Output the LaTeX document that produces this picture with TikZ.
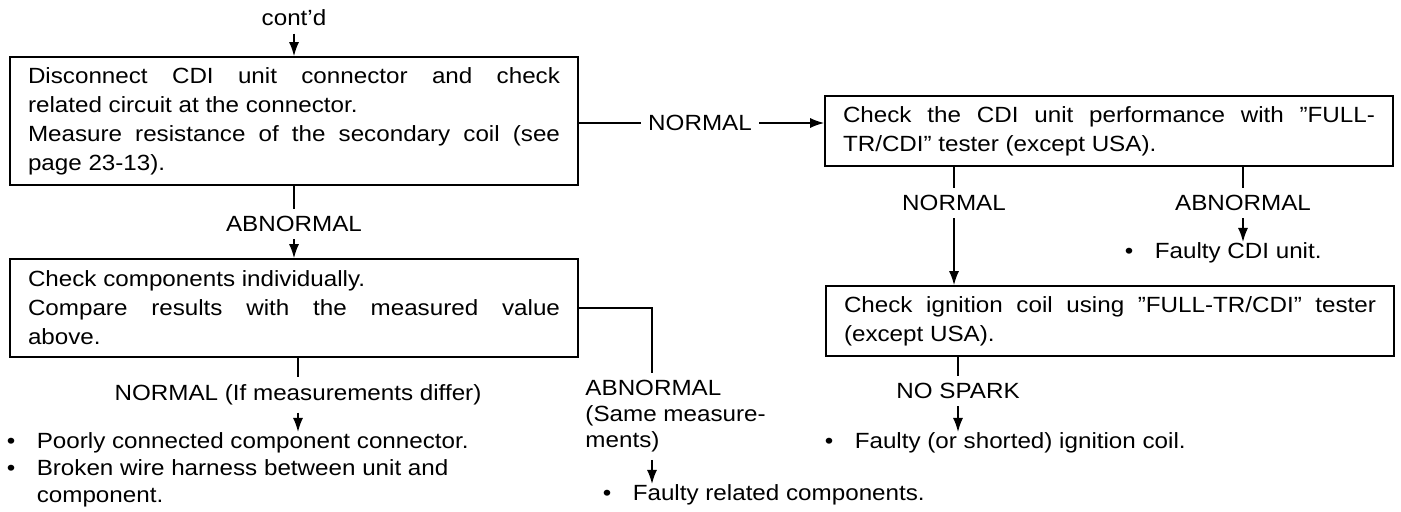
\documentclass[tikz,border=0pt]{standalone}
\usepackage{fontspec}
\setmainfont{Liberation Sans}[FakeStretch=1.1]
\usepackage{tikz}
\usetikzlibrary{arrows.meta}
\setlength{\parindent}{0pt}
\newcommand{\bul}{\makebox[15pt][l]{\textbullet}}

\begin{document}
\begin{tikzpicture}[
    x=0.5pt, y=-0.5pt,
    line width=0.8pt,
    box/.style={rectangle, draw, text width=266pt, inner xsep=9pt, inner ysep=3pt, align=justify, font=\fontsize{11}{14.5}\selectfont},
    lbl/.style={font=\fontsize{11}{13}\selectfont},
    list/.style={anchor=north west, inner sep=0pt, align=left, font=\fontsize{11}{13.5}\selectfont},
    arrow/.style={-{Latex[length=7pt,width=5pt]}}
]
\useasboundingbox (0,0) rectangle (1401,512);

% left column
\node[lbl] (cont) at (294,18) {cont'd};
\node[box, minimum height=64pt] (chk1) at (294,121) {Disconnect CDI unit connector and check\linebreak related circuit at the connector.\\Measure resistance of the secondary coil (see\linebreak page 23-13).};
\node[lbl] (abn1) at (294,224) {ABNORMAL};
\node[box, minimum height=49pt] (chk2) at (294,308) {Check components individually.\\Compare results with the measured value\linebreak above.};
\node[lbl] (nrm1) at (298,395) {NORMAL (If measurements differ)};
\node[list] (flt1) at (6,432) {\bul Poorly connected component connector.\\\bul Broken wire harness between unit and\\\hspace*{15pt}component.};
\node[lbl, anchor=north west, align=left] (abn2) at (578,373) {ABNORMAL\\(Same measure-\\ments)};
\node[list] (flt2) at (602,484) {\bul Faulty related components.};
\coordinate (abnx) at (652,0);

% right column
\node[lbl] (nrm0) at (700,123) {NORMAL};
\node[box, minimum height=35pt] (chk3) at (1109,131) {Check the CDI unit performance with ''FULL-\linebreak TR/CDI'' tester (except USA).};
\node[lbl] (nrm2) at (954,203) {NORMAL};
\node[lbl] (abn3) at (1243,203) {ABNORMAL};
\node[list] (flt3) at (1124,242) {\bul Faulty CDI unit.};
\node[box, minimum height=35pt] (chk4) at (1110,321) {Check ignition coil using ''FULL-TR/CDI'' tester\linebreak (except USA).};
\node[lbl] (nsp) at (958,391) {NO SPARK};
\node[list] (flt4) at (824,432) {\bul Faulty (or shorted) ignition coil.};

\draw[arrow] (cont) -- (chk1);
\draw (chk1) -- (abn1);
\draw[arrow] (abn1) -- (chk2);
\draw (chk2.south -| nrm1) -- (nrm1);
\draw[arrow] (nrm1) -- (nrm1 |- flt1.north);
\draw (chk2.east) -| (abnx |- abn2.north);
\draw[arrow] (abnx |- abn2.south) -- (abnx |- flt2.north);
\draw (chk1.east |- nrm0) -- (nrm0);
\draw[arrow] (nrm0) -- (chk3.west |- nrm0);
\draw (chk3.south -| nrm2) -- (nrm2);
\draw[arrow] (nrm2) -- (chk4.north -| nrm2);
\draw (chk3.south -| abn3) -- (abn3);
\draw[arrow] (abn3) -- (abn3 |- flt3.north);
\draw (chk4.south -| nsp) -- (nsp);
\draw[arrow] (nsp) -- (nsp |- flt4.north);
\end{tikzpicture}
\end{document}
